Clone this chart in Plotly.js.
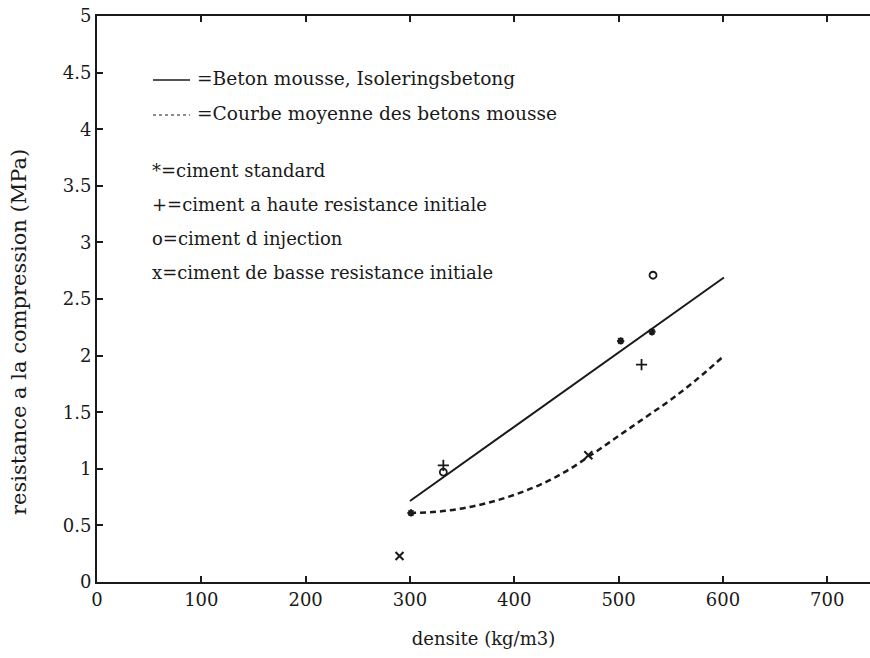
<!DOCTYPE html>
<html>
<head>
<meta charset="utf-8">
<script src="https://cdn.plot.ly/plotly-3.0.1.min.js"></script>
<style>html,body{margin:0;padding:0;background:#fff;}#chart{width:870px;height:658px;}</style>
</head>
<body>
<div id="chart"></div>
<script>
// Solid line: Beton mousse, Isoleringsbetong
const solidX = [300, 601];
const solidY = [0.715, 2.69];

// Dashed line: Courbe moyenne des betons mousse
const dashX = [300, 325, 350, 375, 400, 425, 450, 475, 500, 525, 550, 575, 600];
const dashY = [0.61, 0.62, 0.65, 0.70, 0.77, 0.86, 0.98, 1.13, 1.29, 1.45, 1.61, 1.79, 1.99];

// Points by cement type
const starX = [301, 502, 532];
const starY = [0.61, 2.13, 2.21];
const plusX = [332, 522];
const plusY = [1.03, 1.92];
const circX = [332, 533];
const circY = [0.97, 2.71];
const crossX = [290, 471];
const crossY = [0.23, 1.12];

const xTicks = [0, 100, 200, 300, 400, 500, 600, 700];
const yTicks = [0, 0.5, 1, 1.5, 2, 2.5, 3, 3.5, 4, 4.5, 5];
const yTickText = ['0', '0.5', '1', '1.5', '2', '2.5', '3', '3.5', '4', '4.5', '5'];

const legendLines = [
  '=Beton mousse, Isoleringsbetong',
  '=Courbe moyenne des betons mousse'
];
const legendTexts = [
  '*=ciment standard',
  '+=ciment a haute resistance initiale',
  'o=ciment d injection',
  'x=ciment de basse resistance initiale'
];

const xTitle = 'densite (kg/m3)';
const yTitle = 'resistance a la compression (MPa)';

const ink = '#1a1a1a';
const serif = 'DejaVu Serif';

const traces = [
  {x: solidX, y: solidY, mode: 'lines', line: {color: ink, width: 2}, hoverinfo: 'skip'},
  {x: dashX, y: dashY, mode: 'lines', line: {color: ink, width: 2.5, dash: '6px,4px', shape: 'spline'}, hoverinfo: 'skip'},
  {x: starX, y: starY, mode: 'markers', marker: {symbol: 'asterisk-open', size: 6, color: ink, line: {color: ink, width: 2}}},
  {x: plusX, y: plusY, mode: 'markers', marker: {symbol: 'cross-thin-open', size: 8, color: ink, line: {color: ink, width: 1.8}}},
  {x: circX, y: circY, mode: 'markers', marker: {symbol: 'circle-open', size: 7, color: ink, line: {color: ink, width: 1.8}}},
  {x: crossX, y: crossY, mode: 'markers', marker: {symbol: 'x-thin-open', size: 8, color: ink, line: {color: ink, width: 2}}}
];

// paper coordinate helpers (plot area: left 97, top 16, width 773, height 566)
const L = 97, T = 16, W = 773, H = 566;
const px = v => (v - L) / W;
const py = v => (T + H - v) / H;

const annotations = [];
const legendFont = {family: serif, size: 18, color: ink};
legendLines.forEach((t, i) => {
  annotations.push({xref: 'paper', yref: 'paper', x: px(195), y: py(78 + i * 35), text: t,
    showarrow: false, xanchor: 'left', yanchor: 'middle', font: {family: serif, size: 18.6, color: ink}});
});
legendTexts.forEach((t, i) => {
  annotations.push({xref: 'paper', yref: 'paper', x: px(150), y: py(170 + i * 34), text: t,
    showarrow: false, xanchor: 'left', yanchor: 'middle', font: legendFont});
});
// y-axis title (placed where the reference draws it)
annotations.push({xref: 'paper', yref: 'paper', x: px(19), y: py(332), text: yTitle, textangle: -90,
  showarrow: false, xanchor: 'center', yanchor: 'middle', font: {family: serif, size: 21, color: ink}});

const shapes = [
  {type: 'line', xref: 'paper', yref: 'paper', x0: px(153), x1: px(190), y0: py(80), y1: py(80), line: {color: ink, width: 1.5}},
  {type: 'line', xref: 'paper', yref: 'paper', x0: px(153), x1: px(190), y0: py(115), y1: py(115), line: {color: ink, width: 1.2, dash: '3px,3px'}}
];

const layout = {
  width: 870, height: 658,
  margin: {l: L, r: 870 - L - W, t: T, b: 658 - T - H},
  paper_bgcolor: '#fff', plot_bgcolor: '#fff',
  showlegend: false,
  font: {family: serif, color: ink},
  xaxis: {
    range: [0, 741], tickvals: xTicks, ticktext: xTicks.map(String),
    ticks: 'inside', ticklen: 6, tickwidth: 2, tickcolor: ink,
    showline: true, linecolor: ink, linewidth: 2, mirror: 'ticks',
    showgrid: false, zeroline: false,
    tickfont: {family: serif, size: 18, color: ink},
    title: {text: xTitle, font: {family: serif, size: 18, color: ink}, standoff: 24}
  },
  yaxis: {
    range: [0, 5], tickvals: yTicks, ticktext: yTickText,
    ticks: 'inside', ticklen: 6, tickwidth: 2, tickcolor: ink,
    showline: true, linecolor: ink, linewidth: 2, mirror: false,
    showgrid: false, zeroline: false,
    tickfont: {family: serif, size: 18, color: ink}
  },
  annotations: annotations,
  shapes: shapes
};

Plotly.newPlot('chart', traces, layout, {staticPlot: true, displayModeBar: false});
</script>
</body>
</html>
